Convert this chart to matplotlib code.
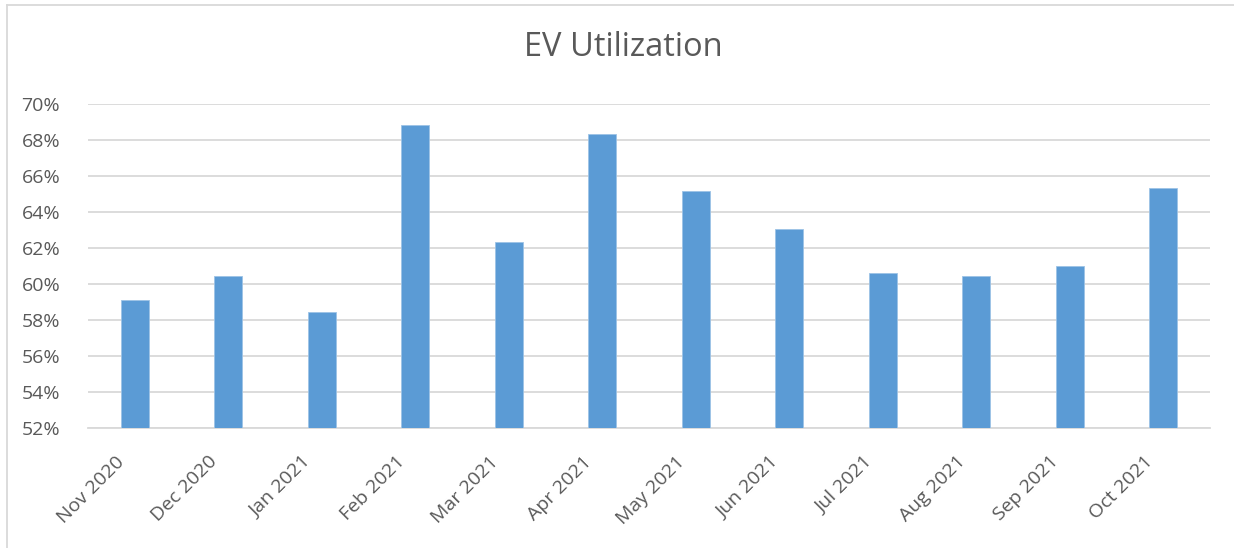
import matplotlib
matplotlib.use("Agg")
import matplotlib.pyplot as plt
import matplotlib.transforms as mtransforms
from matplotlib.ticker import FuncFormatter, MultipleLocator
from matplotlib.lines import Line2D

months = ["Nov 2020", "Dec 2020", "Jan 2021", "Feb 2021", "Mar 2021", "Apr 2021",
          "May 2021", "Jun 2021", "Jul 2021", "Aug 2021", "Sep 2021", "Oct 2021"]
utilization = [59.11, 60.43, 58.43, 68.81, 62.35, 68.35,
               65.17, 63.04, 60.61, 60.46, 61.00, 65.31]

plt.rcParams['font.family'] = ['Open Sans', 'DejaVu Sans']
text_color = "#595959"
grid_color = "#d9d9d9"

fig = plt.figure(figsize=(12.34, 5.48), dpi=100)
ax = fig.add_axes([88/1234, 1-428/548, (1210-88)/1234, (428-104)/548])

x = list(range(len(months)))
ax.bar(x, utilization, width=0.3, color="#5b9bd5", edgecolor="#9dc3e6", linewidth=0.6, zorder=3)

ax.set_xlim(-0.5, len(months)-0.5)
ax.set_ylim(52, 70)
ax.yaxis.set_major_locator(MultipleLocator(2))
ax.yaxis.set_major_formatter(FuncFormatter(lambda v, p: f"{v:.0f}%"))
ax.grid(axis='y', color=grid_color, linewidth=1.3, zorder=0)
ax.set_axisbelow(True)
for s in ['top', 'right', 'left']:
    ax.spines[s].set_visible(False)
ax.spines['bottom'].set_color(grid_color)
ax.spines['bottom'].set_linewidth(1.3)
ax.tick_params(axis='both', length=0, colors=text_color, labelsize=14)
ax.tick_params(axis='y', pad=20)
ax.set_xticks(x)
ax.set_xticklabels(months, rotation=45, ha='right', rotation_mode='anchor')
ax.tick_params(axis='x', pad=12)
offset = mtransforms.ScaledTranslation(-20/100, -8/100, fig.dpi_scale_trans)
for lbl in ax.get_xticklabels():
    lbl.set_transform(lbl.get_transform() + offset)

fig.text(623/1234, 1-48/548, "EV Utilization", ha='center', va='center',
         fontsize=23.5, color=text_color)

# chart border (left and top visible)
fig.add_artist(Line2D([7/1234, 7/1234], [0, 1-5/548], transform=fig.transFigure,
                      color=grid_color, linewidth=1.3))
fig.add_artist(Line2D([7/1234, 1], [1-5/548, 1-5/548], transform=fig.transFigure,
                      color=grid_color, linewidth=1.3))

fig.savefig("out.png", dpi=100, facecolor="white")
